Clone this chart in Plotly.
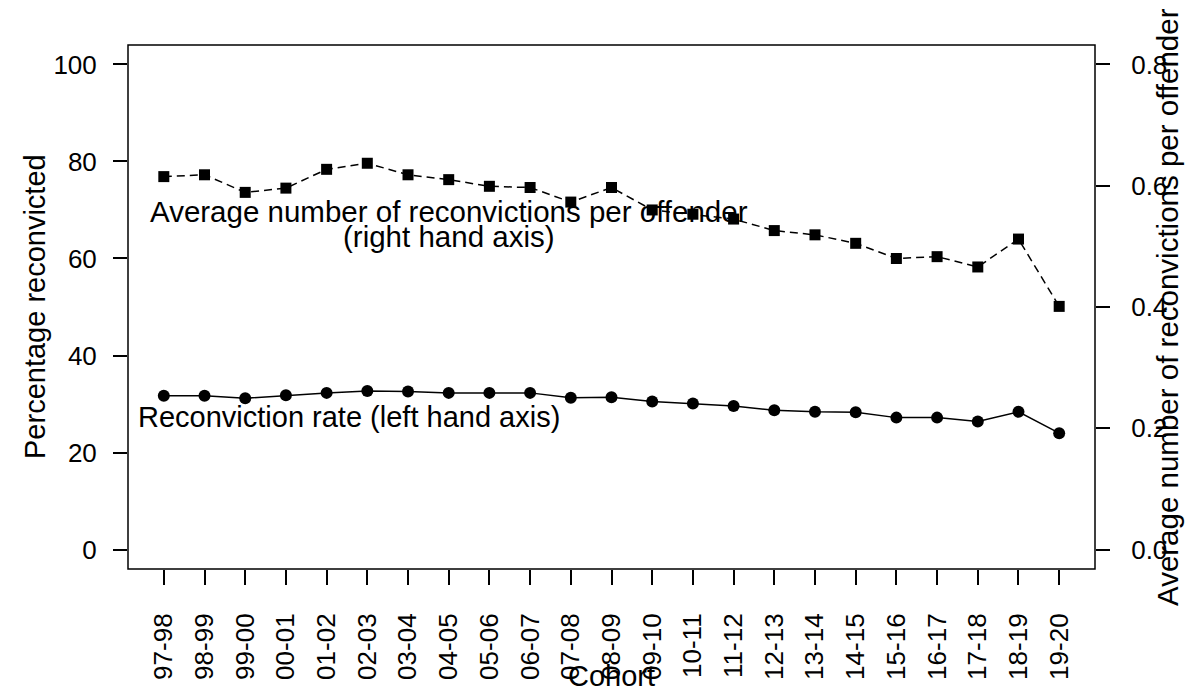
import plotly.graph_objects as go

cohorts = ["97-98", "98-99", "99-00", "00-01", "01-02", "02-03", "03-04", "04-05",
           "05-06", "06-07", "07-08", "08-09", "09-10", "10-11", "11-12", "12-13",
           "13-14", "14-15", "15-16", "16-17", "17-18", "18-19", "19-20"]
reconviction_rate = [31.7, 31.7, 31.2, 31.8, 32.3, 32.7, 32.6, 32.3, 32.3, 32.3, 31.3, 31.4,
                     30.5, 30.1, 29.6, 28.7, 28.4, 28.3, 27.2, 27.2, 26.4, 28.4, 24.0]
avg_reconvictions = [0.615, 0.618, 0.589, 0.596, 0.627, 0.637, 0.618, 0.610, 0.599, 0.597,
                     0.573, 0.597, 0.560, 0.553, 0.545, 0.526, 0.519, 0.505, 0.480, 0.483,
                     0.466, 0.512, 0.401]
left_ticks = [0, 20, 40, 60, 80, 100]
right_ticks = [0.0, 0.2, 0.4, 0.6, 0.8]

FONT = "Liberation Sans, Arial, sans-serif"

fig = go.Figure()
fig.add_trace(go.Scatter(
    x=cohorts, y=reconviction_rate, mode="lines+markers",
    line=dict(color="black", width=1.5),
    marker=dict(symbol="circle", size=12, color="black"),
    yaxis="y", showlegend=False))
fig.add_trace(go.Scatter(
    x=cohorts, y=avg_reconvictions, mode="lines+markers",
    line=dict(color="black", width=1.5, dash="8px,5px"),
    marker=dict(symbol="square", size=11, color="black"),
    yaxis="y2", showlegend=False))

n = len(cohorts)
pad = 0.04 * (n - 1)
fig.update_layout(
    width=1189, height=689,
    margin=dict(l=120, r=102, t=37, b=128),
    paper_bgcolor="white", plot_bgcolor="white",
    font=dict(family=FONT, size=26, color="black"),
    xaxis=dict(type="category", range=[-pad, n - 1 + pad], showgrid=False, zeroline=False,
               showline=False, ticks="outside", ticklen=15, tickwidth=1.5, tickcolor="black",
               tickangle=-90, tickfont=dict(size=26), ticklabelstandoff=18),
    yaxis=dict(range=[-4, 104], tickvals=left_ticks, showgrid=False, zeroline=False,
               showline=False, ticks="outside", ticklen=14, tickwidth=1.5, tickcolor="black",
               tickfont=dict(size=26), ticklabelstandoff=11),
    yaxis2=dict(range=[-0.032, 0.832], tickvals=right_ticks, tickformat=".1f",
                overlaying="y", side="right", showgrid=False, zeroline=False,
                showline=False, ticks="outside", ticklen=14, tickwidth=1.5, tickcolor="black",
                tickfont=dict(size=26), ticklabelstandoff=16),
    shapes=[dict(type="rect", xref="paper", yref="paper", x0=0, y0=0, x1=1, y1=1,
                 line=dict(color="black", width=1.5), layer="above")],
)

W = 967.0
H = 524.0
annotations = [
    dict(text="Average number of reconvictions per offender", x=7, y=69.6, xref="x", yref="y",
         showarrow=False, font=dict(size=29.5), xanchor="center", yanchor="middle"),
    dict(text="(right hand axis)", x=7, y=64.6, xref="x", yref="y",
         showarrow=False, font=dict(size=29.5), xanchor="center", yanchor="middle"),
    dict(text="Reconviction rate (left hand axis)", x=4.55, y=27.4, xref="x", yref="y",
         showarrow=False, font=dict(size=29), xanchor="center", yanchor="middle"),
    dict(text="Cohort", x=0.5, y=(569 - 676) / H, xref="paper", yref="paper",
         showarrow=False, font=dict(size=29), xanchor="center", yanchor="middle"),
    dict(text="Percentage reconvicted", x=(35 - 128) / W, y=0.5, xref="paper", yref="paper",
         showarrow=False, font=dict(size=29), textangle=-90, xanchor="center", yanchor="middle"),
    dict(text="Average number of reconvictions per offender", x=(1167 - 128) / W, y=0.5,
         xref="paper", yref="paper", showarrow=False, font=dict(size=29.5), textangle=-90,
         xanchor="center", yanchor="middle"),
]
fig.update_layout(annotations=annotations)

fig.write_html("out.html")
